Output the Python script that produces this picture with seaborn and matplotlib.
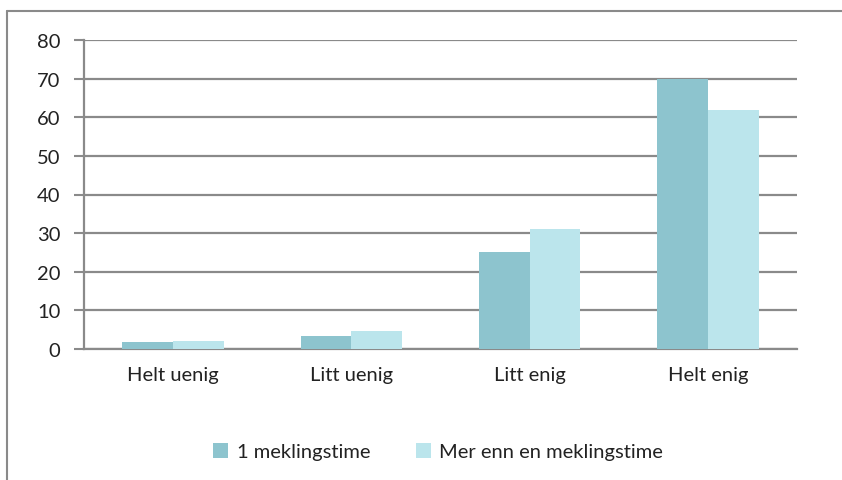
import matplotlib
matplotlib.use("Agg")
import matplotlib.pyplot as plt
from matplotlib.lines import Line2D
import seaborn as sns
import pandas as pd

categories = ["Helt uenig", "Litt uenig", "Litt enig", "Helt enig"]
series_names = ["1 meklingstime", "Mer enn en meklingstime"]
values_1 = [1.9, 3.4, 25.0, 69.9]
values_2 = [2.2, 4.6, 31.1, 62.0]
colors = ["#8DC4CE", "#BBE5EC"]

df = pd.DataFrame({
    "kategori": categories * 2,
    "serie": [series_names[0]] * 4 + [series_names[1]] * 4,
    "verdi": values_1 + values_2,
})

sns.set_theme(style="white")
plt.rcParams["font.family"] = ["Lato", "DejaVu Sans"]

W, H = 842, 481
fig = plt.figure(figsize=(W / 100, H / 100), dpi=100)
ax = fig.add_axes([84 / W, 1 - 350 / H, (797 - 84) / W, (350 - 41) / H])

sns.barplot(data=df, x="kategori", y="verdi", hue="serie", palette=colors,
            order=categories, hue_order=series_names, width=0.57,
            saturation=1, ax=ax, errorbar=None, zorder=3, linewidth=0)

grid_c = "#8A8A8A"
ax.set_ylim(0, 80)
ax.set_xlim(-0.5, 3.5)
ax.set_yticks(range(0, 81, 10))
ax.yaxis.grid(True, color=grid_c, linewidth=1.6, zorder=0)
ax.set_axisbelow(True)
for s in ["top", "right"]:
    ax.spines[s].set_visible(False)
for s in ["left", "bottom"]:
    ax.spines[s].set_color(grid_c)
    ax.spines[s].set_linewidth(1.6)
ax.set_xticks([0, 1, 2, 3])
ax.set_xticklabels(categories)
ax.set_xticks([-0.5, 0.5, 1.5, 2.5, 3.5], minor=True)
ax.tick_params(axis="x", which="major", length=0, pad=12, labelsize=14.5, colors="#222222")
ax.tick_params(axis="x", which="minor", length=7, width=1.5, color=grid_c, direction="out")
ax.tick_params(axis="y", length=7, width=1.5, color=grid_c, direction="out", pad=10,
               labelsize=14.5, labelcolor="#222222", left=True)
ax.set_xlabel("")
ax.set_ylabel("")

ax.legend(loc="upper center", bbox_to_anchor=(0.497, -0.245), ncol=2, frameon=False,
          fontsize=14.5, handlelength=0.75, handleheight=0.75, handletextpad=0.4,
          columnspacing=2.3, labelcolor="#222222")

# outer frame (left and top edges visible)
fig.add_artist(Line2D([7 / W, 7 / W], [0, 1 - 12 / H], transform=fig.transFigure,
                      color=grid_c, linewidth=1.5))
fig.add_artist(Line2D([7 / W, 1], [1 - 12 / H, 1 - 12 / H], transform=fig.transFigure,
                      color=grid_c, linewidth=1.5))

fig.savefig("out.png", dpi=100)
